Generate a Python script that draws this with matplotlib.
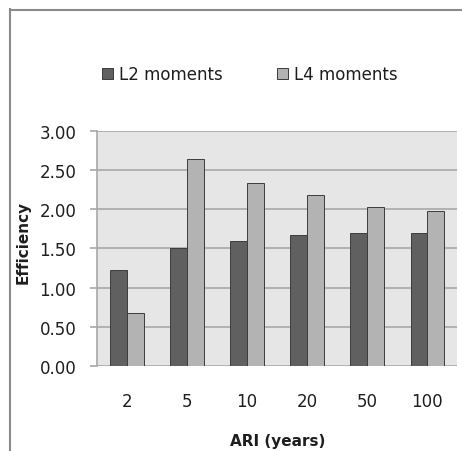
import numpy as np
import matplotlib.pyplot as plt
from matplotlib.lines import Line2D

plt.rcParams['font.family'] = 'DejaVu Sans'

ari = ['2', '5', '10', '20', '50', '100']
l2_eff = [1.22, 1.50, 1.59, 1.67, 1.70, 1.69]
l4_eff = [0.68, 2.64, 2.33, 2.18, 2.02, 1.98]

fig = plt.figure(figsize=(4.62, 4.52), dpi=100)
ax = fig.add_axes([0.21, 0.188, 0.780, 0.521])

x = np.arange(len(ari))
w = 0.28
ax.bar(x - w / 2, l2_eff, w, color='#606060', edgecolor='#3c3c3c', linewidth=0.7,
       label='L2 moments', zorder=3)
ax.bar(x + w / 2, l4_eff, w, color='#b3b3b3', edgecolor='#3c3c3c', linewidth=0.7,
       label='L4 moments', zorder=3)

ax.set_facecolor('#e6e6e6')
ax.set_xlim(-0.5, len(ari) - 0.5)
ax.set_ylim(0, 3)
ax.set_yticks(np.arange(0, 3.01, 0.5))
ax.set_yticklabels(['%.2f' % v for v in np.arange(0, 3.01, 0.5)])
ax.set_xticks(x)
ax.set_xticklabels(ari)
ax.yaxis.grid(True, color='#a8a8a8', linewidth=1.2, zorder=0)
ax.set_axisbelow(True)

for s in ['top', 'right', 'bottom']:
    ax.spines[s].set_visible(False)
ax.spines['left'].set_color('#a8a8a8')
ax.spines['left'].set_linewidth(1.2)

ax.tick_params(axis='y', length=5, width=1.2, color='#a8a8a8', pad=10, labelsize=12,
               labelcolor='#1e1e1e')
ax.tick_params(axis='x', length=0, pad=19, labelsize=12, labelcolor='#1e1e1e')

ax.set_xlabel('ARI (years)', fontsize=11, fontweight='bold', color='#1e1e1e')
ax.xaxis.set_label_coords(0.5, -0.285)
ax.set_ylabel('Efficiency', fontsize=11, fontweight='bold', color='#1e1e1e')
ax.yaxis.set_label_coords(-0.183, 0.53)

leg = fig.legend(loc='center left', bbox_to_anchor=(0.22, 0.834), ncol=2, frameon=False,
                 fontsize=12, handlelength=0.66, handleheight=0.66, handletextpad=0.36,
                 columnspacing=3.3, borderaxespad=0, borderpad=0)
for t in leg.get_texts():
    t.set_color('#1e1e1e')

# chart frame, only left and top edges fall inside the canvas
fig.add_artist(Line2D([10 / 462, 10 / 462], [0, 1 - 10 / 452], transform=fig.transFigure,
                      color='#8a8a8a', linewidth=1.5, solid_capstyle='projecting'))
fig.add_artist(Line2D([10 / 462, 1], [1 - 11 / 452, 1 - 11 / 452], transform=fig.transFigure,
                      color='#8a8a8a', linewidth=1.5, solid_capstyle='projecting'))

fig.savefig('out.png', dpi=100)
